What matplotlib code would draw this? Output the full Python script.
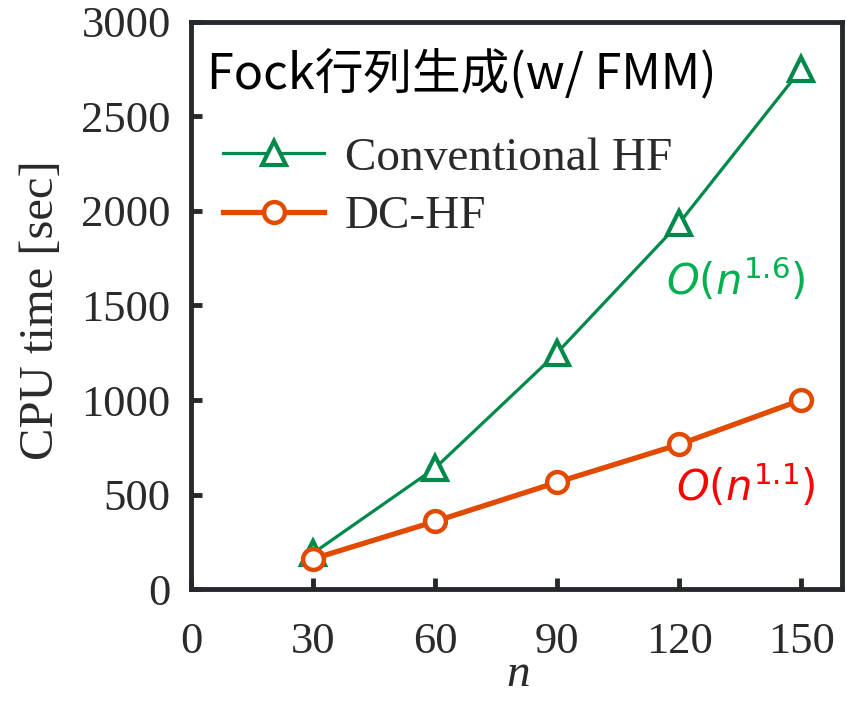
import matplotlib.pyplot as plt

# system size n and CPU time [sec] for Fock matrix build
n = [30, 60, 90, 120, 150]
conv_hf = [190, 640, 1250, 1935, 2750]
dc_hf = [160, 358, 565, 765, 1000]

green = '#00894A'
orange = '#E24A00'
spine_c = '#26292C'
txt_c = '#2a2a2a'

plt.rcParams['font.family'] = ['Liberation Serif']
plt.rcParams['mathtext.fontset'] = 'dejavusans'

fig = plt.figure(figsize=(8.47, 7.03), dpi=100)
ax = fig.add_axes([0.2255, 0.162, 0.7685, 0.807])

ax.plot(n, conv_hf, color=green, lw=2.3, marker='^', ms=17, mfc='white',
        mec=green, mew=3, label='Conventional HF', zorder=3)
ax.plot(n, dc_hf, color=orange, lw=3.8, marker='o', ms=15, mfc='white',
        mec=orange, mew=3.2, label='DC-HF', zorder=4)

ax.set_xlim(0, 160)
ax.set_ylim(0, 3000)
ax.set_xticks([0, 30, 60, 90, 120, 150])
ax.set_yticks(range(0, 3001, 500))

for s in ax.spines.values():
    s.set_linewidth(3.5)
    s.set_color(spine_c)
ax.tick_params(direction='in', length=8, width=3.5, color=spine_c,
               labelsize=32, labelcolor=txt_c)
ax.tick_params(axis='x', pad=24)
ax.tick_params(axis='y', pad=14.5)

ax.set_xlabel('n', fontsize=34, fontstyle='italic', color=txt_c)
ax.xaxis.set_label_coords(0.502, -0.113)
ax.set_ylabel('CPU time [sec]', fontsize=35, color=txt_c)
ax.yaxis.set_label_coords(-0.197, 0.492)

ax.text(0.025, 0.906, 'Fock行列生成(w/ FMM)', transform=ax.transAxes,
        fontsize=35, family=['Noto Sans CJK JP', 'DejaVu Sans'],
        va='center', ha='left', color='black')

leg = ax.legend(loc='upper left', bbox_to_anchor=(0.049, 0.797), frameon=False,
                fontsize=34, handlelength=2.15, handletextpad=0.43,
                labelspacing=0.32, borderaxespad=0, borderpad=0)
for t in leg.get_texts():
    t.set_color(txt_c)

ax.text(0.73, 0.545, r'$\mathit{O}(\mathit{n}^{\mathrm{1.6}})$', transform=ax.transAxes,
        fontsize=30, color='#00B050', va='center', ha='left')
ax.text(0.745, 0.18, r'$\mathit{O}(\mathit{n}^{\mathrm{1.1}})$', transform=ax.transAxes,
        fontsize=30, color='#FF0000', va='center', ha='left')

fig.savefig('out.png', dpi=100)
